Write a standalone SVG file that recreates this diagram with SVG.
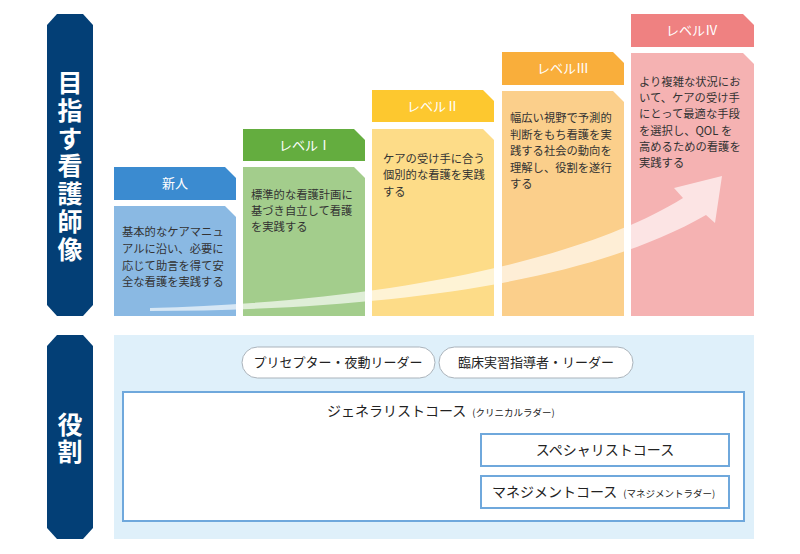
<svg xmlns="http://www.w3.org/2000/svg" width="800" height="554" viewBox="0 0 800 554">
<style>
text{font-family:"Noto Sans CJK JP","Noto Sans",sans-serif}
.side{fill:#033f76}
.sidet{fill:#fff;font-size:25px;font-weight:bold;writing-mode:vertical-rl;text-orientation:upright}
.hd{fill:#fff;font-size:13px;text-anchor:middle}
.bd{fill:#333;font-size:11.3px}
.pill{fill:#fff;stroke:#aab3bb;stroke-width:1}
.pt{fill:#222;font-size:13px;text-anchor:middle}
.crs{fill:#fff;stroke:#6fa8dc;stroke-width:2}
.ct{fill:#222;font-size:14px}
.cs{fill:#222;font-size:9.5px}
</style>
<rect width="800" height="554" fill="#fff"/>
<g id="side-goal">
<path class="side" d="M57,14 H83 L93,25 V305 L83,316 H57 L47,305 V25 Z"/>
<text class="sidet" x="70" y="70" letter-spacing="2.8">目指す看護師像</text>
</g>
<g id="side-role">
<path class="side" d="M57,335 H83 L93,346 V528 L83,539 H57 L47,528 V346 Z"/>
<text class="sidet" x="70" y="412" font-size="24" letter-spacing="2">役割</text>
</g>
<g id="col-new">
<path d="M114,167 H225 L236,178 V200 H114 Z" fill="#3b8bd0"/>
<text class="hd" x="175" y="188">新人</text>
<path d="M114,206 H225 L236,217 V316 H114 Z" fill="#8ab9e3"/>
<text class="bd" x="122" y="236">基本的なケアマニュ</text>
<text class="bd" x="122" y="253">アルに沿い、必要に</text>
<text class="bd" x="122" y="270">応じて助言を得て安</text>
<text class="bd" x="122" y="286">全な看護を実践する</text>
</g>
<g id="col-lv1">
<path d="M243,129 H354 L365,140 V161 H243 Z" fill="#64ad3f"/>
<text class="hd" x="305" y="150">レベルⅠ</text>
<path d="M243,167 H354 L365,178 V316 H243 Z" fill="#a3cd8c"/>
<text class="bd" x="251" y="199">標準的な看護計画に</text>
<text class="bd" x="251" y="215">基づき自立して看護</text>
<text class="bd" x="251" y="231">を実践する</text>
</g>
<g id="col-lv2">
<path d="M372,90 H483 L494,101 V122 H372 Z" fill="#fdc82f"/>
<text class="hd" x="433" y="111">レベルⅡ</text>
<path d="M372,129 H483 L494,140 V316 H372 Z" fill="#fddc88"/>
<text class="bd" x="383" y="163">ケアの受け手に合う</text>
<text class="bd" x="383" y="179">個別的な看護を実践</text>
<text class="bd" x="383" y="196">する</text>
</g>
<g id="col-lv3">
<path d="M502,52 H613 L624,63 V85 H502 Z" fill="#f9ae3b"/>
<text class="hd" x="563" y="73">レベルⅢ</text>
<path d="M502,91 H613 L624,102 V316 H502 Z" fill="#fbcf8b"/>
<text class="bd" x="510" y="122">幅広い視野で予測的</text>
<text class="bd" x="510" y="139">判断をもち看護を実</text>
<text class="bd" x="510" y="155">践する社会の動向を</text>
<text class="bd" x="510" y="172">理解し、役割を遂行</text>
<text class="bd" x="510" y="188">する</text>
</g>
<g id="col-lv4">
<path d="M631,14 H743 L754,25 V47 H631 Z" fill="#ef8181"/>
<text class="hd" x="692" y="35">レベルⅣ</text>
<path d="M631,53 H743 L754,64 V316 H631 Z" fill="#f5b2b2"/>
<text class="bd" x="639" y="86">より複雑な状況にお</text>
<text class="bd" x="639" y="102">いて、ケアの受け手</text>
<text class="bd" x="639" y="118">にとって最適な手段</text>
<text class="bd" x="639" y="135">を選択し、QOL を</text>
<text class="bd" x="639" y="151">高めるための看護を</text>
<text class="bd" x="639" y="167">実践する</text>
</g>
<g id="connectors">
<path d="M150,308 C380,302 580,262 683,198 L674,188 L722,176 L715,223 L706,215 C590,282 390,310 150,311 Z" fill="#fff" fill-opacity="0.65"/>
</g>
<g id="roles">
<rect x="114" y="335" width="640" height="204" fill="#dff0fa"/>
<g id="pill-preceptor">
<rect class="pill" x="242" y="347" width="193" height="31" rx="15.5"/>
<text class="pt" x="338" y="367">プリセプター・夜動リーダー</text>
</g>
<g id="pill-clinical">
<rect class="pill" x="439" y="347" width="194" height="31" rx="15.5"/>
<text class="pt" x="536" y="367">臨床実習指導者・リーダー</text>
</g>
<g id="course-generalist">
<rect class="crs" x="123" y="392" width="621" height="129"/>
<text x="327" y="416"><tspan class="ct">ジェネラリストコース</tspan><tspan class="cs" dx="6">(クリニカルラダー)</tspan></text>
</g>
<g id="course-specialist">
<rect class="crs" x="481" y="434" width="248" height="32"/>
<text class="ct" x="605" y="455" text-anchor="middle">スペシャリストコース</text>
</g>
<g id="course-management">
<rect class="crs" x="481" y="476" width="248" height="32"/>
<text x="492" y="497"><tspan class="ct">マネジメントコース</tspan><tspan class="cs" dx="6">(マネジメントラダー)</tspan></text>
</g>
</g>
</svg>
